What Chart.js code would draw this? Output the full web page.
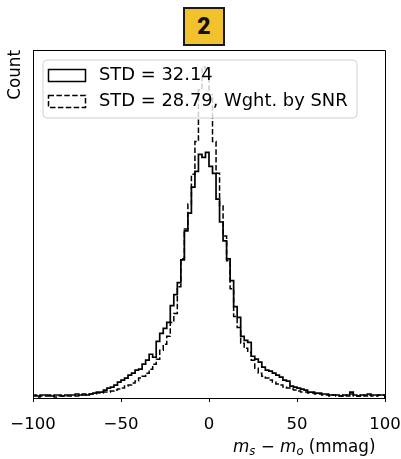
<!DOCTYPE html>
<html>
<head>
<meta charset="utf-8">
<script src="https://cdn.jsdelivr.net/npm/chart.js@4.4.1/dist/chart.umd.min.js"></script>
<style>
  body { margin: 0; background: #fff; }
  #wrap { position: relative; width: 401px; height: 459px; }
  #badge {
    position: absolute; left: 183px; top: 7px; width: 38px; height: 35px;
    background: #f2c12e; border: 2px solid #1a1a1a;
    font: 900 23px Roboto, "DejaVu Sans", sans-serif; color: #111;
    text-align: center; line-height: 35px;
  }
</style>
</head>
<body>
<div id="wrap">
  <canvas id="hist" width="401" height="459"></canvas>
  <div id="badge">2</div>
</div>
<script>
// histogram bins: 100 bins of width 2 mmag from -100 to 100
const binStart = -100;
const binWidth = 2;

const labels = ['STD = 32.14', 'STD = 28.79, Wght. by SNR'];

const counts = [
  3, 3, 2, 3, 3, 3, 2, 3, 3, 2, 3, 3, 3, 4, 3,
  4, 3, 4, 5, 6, 6, 8, 10, 11, 13, 16, 18, 20, 23, 25,
  28, 29, 34, 38, 44, 41, 57, 65, 70, 76, 93, 104, 116, 139, 168,
  186, 212, 228, 245, 242, 247, 233, 226, 200, 177, 158, 140, 118, 92, 81,
  62, 58, 56, 42, 39, 36, 31, 28, 27, 25, 23, 21, 18, 17, 12,
  11, 10, 9, 8, 6, 6, 5, 5, 4, 4, 3, 3, 3, 2, 3,
  3, 6, 3, 2, 3, 3, 4, 3, 3, 3
];

const countsSNR = [
  2, 2, 1, 2, 2, 2, 2, 1, 2, 2, 2, 2, 2, 2, 3,
  3, 3, 4, 4, 5, 5, 6, 6, 7, 8, 9, 10, 12, 13, 15,
  17, 20, 22, 25, 29, 34, 39, 48, 54, 62, 76, 85, 112, 140, 170,
  195, 225, 258, 310, 333, 331, 305, 258, 226, 193, 163, 138, 110, 82, 71,
  55, 50, 46, 38, 30, 25, 22, 20, 18, 16, 14, 13, 11, 10, 9,
  8, 7, 6, 6, 5, 5, 4, 4, 3, 3, 2, 3, 2, 2, 3,
  2, 4, 2, 2, 3, 2, 3, 2, 2, 3
];

function stepPoints(vals) {
  const pts = [{x: binStart, y: 0}];
  vals.forEach((v, i) => pts.push({x: binStart + i * binWidth, y: v}));
  const end = binStart + vals.length * binWidth;
  pts.push({x: end, y: vals[vals.length - 1]});
  pts.push({x: end, y: 0});
  return pts;
}

Chart.defaults.font.family = '"DejaVu Sans"';
Chart.defaults.font.size = 16.5;
Chart.defaults.color = '#000';

const frameAndText = {
  id: 'frameAndText',
  afterDatasetsDraw(chart) {
    const ctx = chart.ctx;
    const a = chart.chartArea;
    ctx.save();
    // top/right spines
    ctx.strokeStyle = '#000';
    ctx.lineWidth = 1;
    ctx.beginPath();
    ctx.moveTo(a.left, a.top + 0.5);
    ctx.lineTo(a.right + 0.5, a.top + 0.5);
    ctx.lineTo(a.right + 0.5, a.bottom);
    ctx.stroke();

    // legend box
    const bx = 43, by = 60, bw = 314, bh = 58;
    ctx.beginPath();
    ctx.roundRect(bx, by, bw, bh, 4);
    ctx.fillStyle = 'rgba(255,255,255,0.8)';
    ctx.fill();
    ctx.strokeStyle = '#d0d0d0';
    ctx.lineWidth = 1;
    ctx.stroke();

    ctx.font = '17.9px "DejaVu Sans"';
    ctx.textBaseline = 'middle';
    ctx.fillStyle = '#000';
    chart.data.datasets.forEach((ds, i) => {
      const cy = 75.5 + i * 26;
      ctx.setLineDash(ds.borderDash || []);
      ctx.lineWidth = 1.5;
      ctx.strokeStyle = ds.borderColor;
      ctx.strokeRect(48.5, cy - 6, 37, 12);
      ctx.setLineDash([]);
      ctx.fillText(ds.label, 99, cy);
    });
    ctx.restore();
  },
  afterDraw(chart) {
    // x label: m_s - m_o (mmag)
    const ctx = chart.ctx;
    ctx.save();
    ctx.fillStyle = '#000';
    ctx.textBaseline = 'alphabetic';
    let x = 233;
    const base = 452;
    const parts = [
      ['italic 16.8px "DejaVu Sans"', 'm', 0],
      ['italic 11.5px "DejaVu Sans"', 's', 3],
      ['16.8px "DejaVu Sans"', ' \u2212 ', 0],
      ['italic 16.8px "DejaVu Sans"', 'm', 0],
      ['italic 11.5px "DejaVu Sans"', 'o', 3],
      ['16.8px "DejaVu Sans"', ' (mmag)', 0]
    ];
    parts.forEach(([font, txt, dy]) => {
      ctx.font = font;
      ctx.fillText(txt, x, base + dy);
      x += ctx.measureText(txt).width;
    });
    ctx.restore();
  }
};

new Chart(document.getElementById('hist'), {
  type: 'line',
  data: {
    datasets: [
      {
        label: labels[0],
        data: stepPoints(counts),
        borderColor: '#000',
        borderWidth: 1.7,
        stepped: 'after',
        pointRadius: 0,
        fill: false
      },
      {
        label: labels[1],
        data: stepPoints(countsSNR),
        borderColor: '#000',
        borderWidth: 1.5,
        borderDash: [5.5, 2.4],
        stepped: 'after',
        pointRadius: 0,
        fill: false
      }
    ]
  },
  options: {
    responsive: false,
    animation: false,
    layout: { padding: { top: 50, right: 16, left: 0, bottom: 0 } },
    plugins: {
      legend: { display: false },
      tooltip: { enabled: false }
    },
    scales: {
      x: {
        type: 'linear',
        min: -100,
        max: 100,
        afterFit: s => { s.height = 61; s.paddingLeft = 0; s.paddingRight = 0; },
        border: { display: true, color: '#000', width: 1 },
        grid: { drawOnChartArea: false, drawTicks: true, tickLength: 4, color: '#000' },
        ticks: {
          stepSize: 50,
          autoSkip: false,
          maxRotation: 0,
          padding: 13,
          callback: v => v < 0 ? '\u2212' + Math.abs(v) : String(v)
        }
      },
      y: {
        min: 0,
        max: 350,
        afterFit: s => { s.width = 33; s.paddingTop = 0; s.paddingBottom = 0; },
        border: { display: true, color: '#000', width: 1 },
        grid: { display: false },
        ticks: { display: false },
        title: {
          display: true,
          text: 'Count',
          align: 'end',
          font: { size: 16.8 },
          padding: { top: 6, bottom: 0 }
        }
      }
    }
  },
  plugins: [frameAndText]
});
</script>
</body>
</html>
